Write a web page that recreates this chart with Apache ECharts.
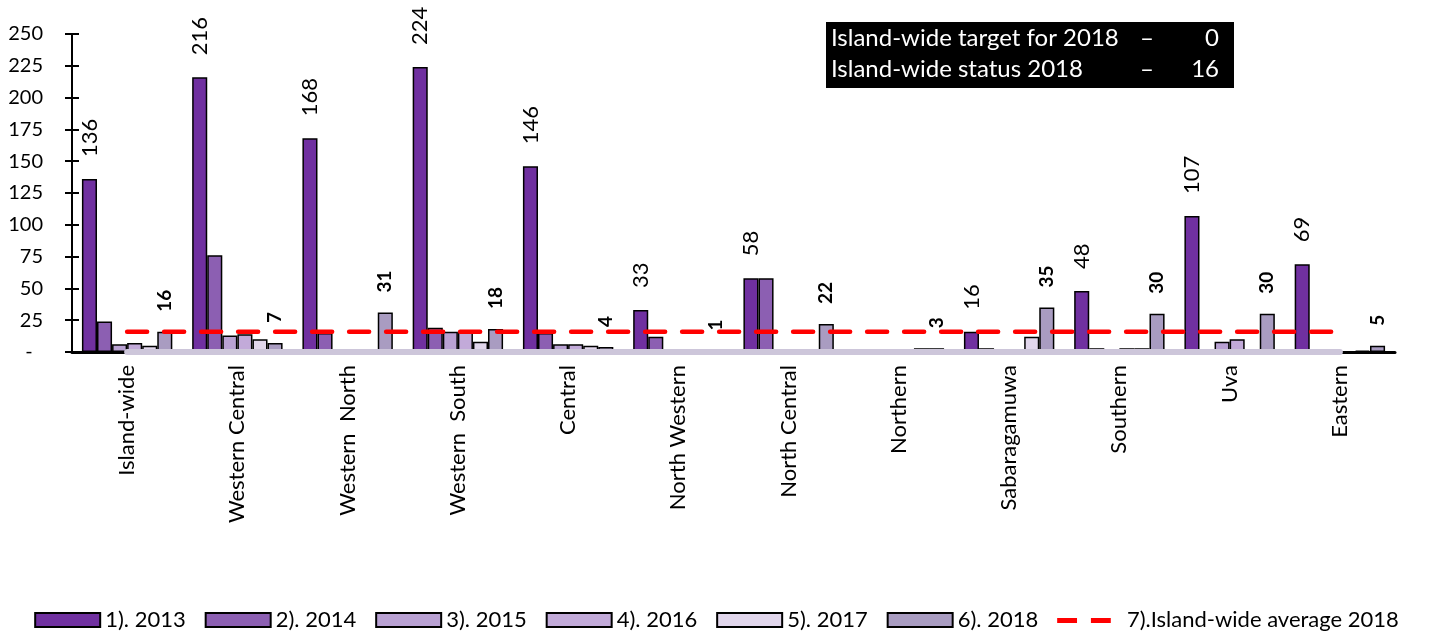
<!DOCTYPE html>
<html>
<head>
	<meta charset="utf-8">
	<title>charts</title>
	<script type="text/javascript" src="https://cdn.jsdelivr.net/npm/echarts@6/dist/echarts.min.js"></script>
</head>
<body style="margin:0">
	<div id="main" style="width: 1433px;height:638px;"></div>
	<script type="text/javascript">
		var provinces = ['Island-wide', 'Western Central', 'Western  North', 'Western  South', 'Central', 'North Western',
			'North Central', 'Northern', 'Sabaragamuwa', 'Southern', 'Uva', 'Eastern'];
		var y2013 = [136, 216, 168, 224, 146, 33, 58, 0, 16, 48, 107, 69];
		var y2014 = [24, 76, 15, 19, 15, 12, 58, 0, 3, 3, 0, 0];
		var y2015 = [6, 13, 0, 16, 6, 0, 0, 0, 0, 0, 8, 0];
		var y2016 = [7, 14, 0, 16, 6, 1, 0, 0, 2, 3, 10, 0];
		var y2017 = [5, 10, 0, 8, 5, 0, 0, 3, 12, 3, 0, 1];
		var y2018 = [16, 7, 31, 18, 4, 1, 22, 3, 35, 30, 30, 5];
		var average2018 = [16, 16, 16, 16, 16, 16, 16, 16, 16, 16, 16, 16];
		var target2018 = [0, 0, 0, 0, 0, 0, 0, 0, 0, 0, 0, 0];

		var FONT = 'Lato';
		var barColors = ['#7030a0', '#8c5fb2', '#b9a1d3', '#c2aad9', '#e1d6ec', '#a99cc1'];

		function bar(name, data, color, label) {
			return {
				name: name,
				type: 'bar',
				data: data,
				barGap: '0%',
				barCategoryGap: '18%',
				itemStyle: { color: color, borderColor: '#000', borderWidth: 1.5 },
				label: label || { show: false }
			};
		}

		var myChart = echarts.init(document.getElementById('main'));

		var option = {
			animation: false,
			textStyle: { fontFamily: FONT },
			grid: { left: 72, right: 38, top: 34, bottom: 286, containLabel: false },
			legend: {
				bottom: 2,
				left: 'center',
				icon: 'rect',
				itemWidth: 65,
				itemHeight: 14,
				itemGap: 19,
				textStyle: { fontFamily: FONT, fontSize: 22, color: '#000' },
				data: ['1). 2013', '2). 2014', '3). 2015', '4). 2016', '5). 2017', '6). 2018', {
					name: '7).Island-wide average 2018',
					icon: 'path://M0,5 h20 v5 h-20 z M34,5 h20 v5 h-20 z M64,0 h1 v0.1 h-1 z M64,14 h1 v0.1 h-1 z'
				}]
			},
			xAxis: [{
				type: 'category',
				data: provinces,
				axisLine: { lineStyle: { color: '#000', width: 3 } },
				axisTick: { length: 9, lineStyle: { color: '#000', width: 3 } },
				axisLabel: { rotate: 90, fontSize: 22, color: '#000', margin: 13, fontFamily: FONT }
			}, {
				type: 'category',
				data: provinces,
				position: 'bottom',
				axisLine: { show: false },
				axisTick: { inside: true, length: 8, lineStyle: { color: '#000', width: 3 } },
				axisLabel: { show: false }
			}],
			yAxis: [{
				type: 'value',
				min: 0,
				max: 250,
				interval: 25,
				splitLine: { show: false },
				axisLine: { show: true, lineStyle: { color: '#000', width: 2 } },
				axisTick: { show: true, length: 7, lineStyle: { color: '#000', width: 2 } },
				axisLabel: {
					fontSize: 20, color: '#000', margin: 29, fontFamily: FONT,
					formatter: function (v) { return v === 0 ? '-  ' : v; }
				}
			}, {
				type: 'value',
				min: 0,
				max: 250,
				interval: 25,
				position: 'left',
				splitLine: { show: false },
				axisLine: { show: false },
				axisTick: { show: true, inside: true, length: 7, lineStyle: { color: '#000', width: 2 } },
				axisLabel: { show: false }
			}],
			series: [
				bar('1). 2013', y2013, barColors[0], {
					show: true, position: 'top', rotate: 90, align: 'left', verticalAlign: 'middle',
					distance: 22, fontSize: 22, color: '#000', fontFamily: FONT,
					formatter: function (p) { return p.value > 0 ? p.value : ''; }
				}),
				bar('2). 2014', y2014, barColors[1]),
				bar('3). 2015', y2015, barColors[2]),
				bar('4). 2016', y2016, barColors[3]),
				bar('5). 2017', y2017, barColors[4]),
				bar('6). 2018', y2018, barColors[5], {
					show: true, position: 'top', rotate: 90, align: 'left', verticalAlign: 'middle',
					distance: 20, fontSize: 19, fontWeight: 'bold', color: '#000', fontFamily: FONT
				}),
				{
					name: 'target',
					type: 'line',
					data: target2018,
					symbol: 'none',
					z: 3,
					lineStyle: { color: '#cdc6da', width: 6, cap: 'round' }
				},
				{
					name: '7).Island-wide average 2018',
					type: 'line',
					data: average2018,
					symbol: 'none',
					z: 4,
					itemStyle: { color: '#ff0000' },
					lineStyle: { color: '#ff0000', width: 4.5, type: [20, 17], cap: 'round' }
				}
			],
			graphic: [{
				type: 'group',
				left: 826,
				top: 22,
				children: [
					{ type: 'rect', shape: { x: 0, y: 0, width: 408, height: 66 }, style: { fill: '#000' } },
					{ type: 'text', x: 5, y: 4, style: { text: 'Island-wide target for 2018', fill: '#fff', font: '24px Lato' } },
					{ type: 'text', x: 5, y: 35, style: { text: 'Island-wide status 2018', fill: '#fff', font: '24px Lato' } },
					{ type: 'text', x: 314, y: 4, style: { text: '–', fill: '#fff', font: '24px Lato' } },
					{ type: 'text', x: 314, y: 35, style: { text: '–', fill: '#fff', font: '24px Lato' } },
					{ type: 'text', x: 393, y: 4, style: { text: '0', fill: '#fff', font: '24px Lato', align: 'right' } },
					{ type: 'text', x: 393, y: 35, style: { text: '16', fill: '#fff', font: '24px Lato', align: 'right' } }
				]
			}]
		};

		myChart.setOption(option);
	</script>
</body>
</html>
